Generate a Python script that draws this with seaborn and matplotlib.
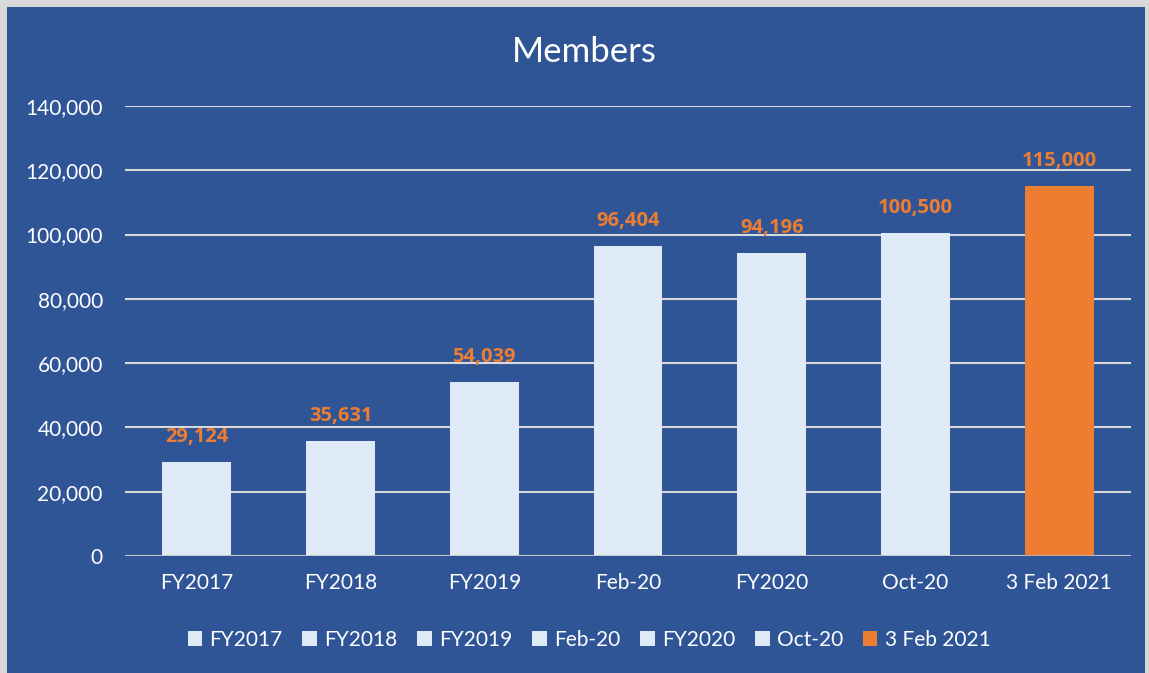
import seaborn as sns
import pandas as pd
import matplotlib.pyplot as plt
from matplotlib.patches import Rectangle
from matplotlib.ticker import FuncFormatter

categories = ['FY2017', 'FY2018', 'FY2019', 'Feb-20', 'FY2020', 'Oct-20', '3 Feb 2021']
members = [29124, 35631, 54039, 96404, 94196, 100500, 115000]
bar_colors = ['#DEEBF7'] * 6 + ['#ED7D31']

bg = '#2F5597'
sns.set_theme(style='white')
plt.rcParams['font.family'] = ['Lato', 'DejaVu Sans']

df = pd.DataFrame({'Period': categories, 'Members': members})

fig = plt.figure(figsize=(11.49, 6.73), dpi=100)
fig.patch.set_facecolor('#D9D9D9')
fig.patches.append(Rectangle((7 / 1149, 0), 1 - 11 / 1149, 1 - 7 / 673,
                             transform=fig.transFigure, facecolor=bg,
                             edgecolor='none', zorder=-10))

ax = fig.add_axes([125 / 1149, 1 - 556 / 673, 1006 / 1149, 450 / 673])
ax.set_facecolor(bg)
ax.patch.set_alpha(0)

sns.barplot(data=df, x='Period', y='Members', hue='Period',
            palette=dict(zip(categories, bar_colors)), width=0.48,
            legend=False, ax=ax, saturation=1, zorder=3, linewidth=0,
            edgecolor='none')

ax.set_ylim(0, 140000)
ax.set_xlim(-0.5, len(categories) - 0.5)
ax.set_yticks(range(0, 140001, 20000))
ax.yaxis.set_major_formatter(FuncFormatter(lambda v, p: f'{int(v):,}'))
ax.yaxis.grid(True, color='#D9D9D9', linewidth=1.5, zorder=0)
ax.set_axisbelow(True)
for s in ax.spines.values():
    s.set_visible(False)
ax.axhline(0, color='#BFBFBF', linewidth=1.8, zorder=4)
ax.tick_params(axis='both', length=0, colors='white', labelsize=15)
ax.tick_params(axis='y', pad=16)
ax.tick_params(axis='x', pad=12)
ax.set_xlabel('')
ax.set_ylabel('')

for i, v in enumerate(members):
    ax.text(i, v + 4800, f'{v:,}', ha='center', va='bottom', color='#ED7D31',
            fontsize=14.5, fontweight='bold', family=['Open Sans', 'DejaVu Sans'])

fig.text(584 / 1149, 1 - 52 / 673, 'Members', ha='center', va='center',
         color='white', fontsize=25)

handles = [Rectangle((0, 0), 1, 1, facecolor=c, edgecolor='none') for c in bar_colors]
fig.legend(handles, categories, loc='center', bbox_to_anchor=(589 / 1149, 1 - 640 / 673),
           ncol=7, frameon=False, fontsize=15, labelcolor='white',
           handlelength=0.7, handleheight=0.7, handletextpad=0.35, columnspacing=0.95)

fig.savefig('out.png', dpi=100, facecolor=fig.get_facecolor())
